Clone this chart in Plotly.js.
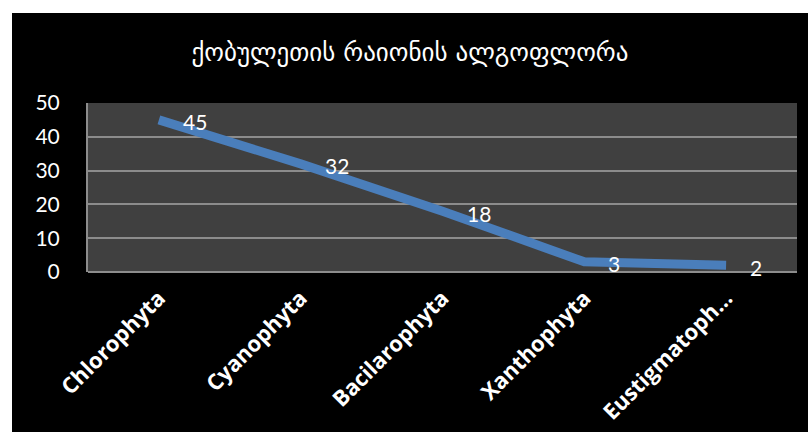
<!DOCTYPE html>
<html>
<head>
<meta charset="utf-8">
<script src="https://cdn.plot.ly/plotly-3.0.1.min.js"></script>
<style>
html,body{margin:0;padding:0;background:#ffffff;width:808px;height:432px;overflow:hidden;}
#chart{position:absolute;left:12px;top:13px;width:796px;height:419px;background:#000;}
</style>
</head>
<body>
<div id="chart"></div>
<script>
const titleText = "ქობულეთის რაიონის ალგოფლორა";
const categories = ["Chlorophyta", "Cyanophyta", "Bacilarophyta", "Xanthophyta", "Eustigmatoph…"];
const values = [45, 32, 18, 3, 2];
const yTicks = [0, 10, 20, 30, 40, 50];

const trace = {
  x: categories,
  y: values,
  type: "scatter",
  mode: "lines",
  line: {color: "#4a7ebb", width: 9},
  hoverinfo: "none",
  cliponaxis: false
};

const annotations = categories.map((c, i) => ({
  x: c, y: values[i], xref: "x", yref: "y",
  text: String(values[i]), showarrow: false,
  xanchor: "left", yanchor: "middle", xshift: 22, yshift: -2,
  font: {family: "Lato, 'Open Sans', sans-serif", size: 21, color: "#ffffff"}
}));

const layout = {
  width: 796, height: 419,
  paper_bgcolor: "#000000",
  plot_bgcolor: "#404040",
  margin: {l: 76, r: 11, t: 90, b: 160},
  showlegend: false,
  title: {
    text: titleText,
    font: {family: "'DejaVu Sans', sans-serif", size: 25, color: "#ffffff"},
    x: 0.5, xanchor: "center", xref: "container",
    y: 1 - 39/419, yanchor: "middle", yref: "container"
  },
  xaxis: {
    type: "category",
    range: [-0.5, 4.5],
    showgrid: false,
    zeroline: false,
    showline: false,
    tickangle: -45,
    ticklabelstandoff: 8,
    tickfont: {family: "'Open Sans', sans-serif", size: 22, color: "#ffffff", weight: "bold"},
    ticks: ""
  },
  yaxis: {
    range: [0, 50],
    tickvals: yTicks,
    ticktext: yTicks.map(String),
    showgrid: true,
    gridcolor: "#8c8c8c",
    gridwidth: 2,
    zeroline: true,
    zerolinecolor: "#8c8c8c",
    zerolinewidth: 2,
    showline: true,
    linecolor: "#8c8c8c",
    linewidth: 2,
    ticks: "",
    ticklabelstandoff: 22,
    tickfont: {family: "Lato, 'Open Sans', sans-serif", size: 21, color: "#ffffff"}
  },
  annotations: annotations
};

Plotly.newPlot("chart", [trace], layout, {displayModeBar: false, staticPlot: true});
</script>
</body>
</html>
